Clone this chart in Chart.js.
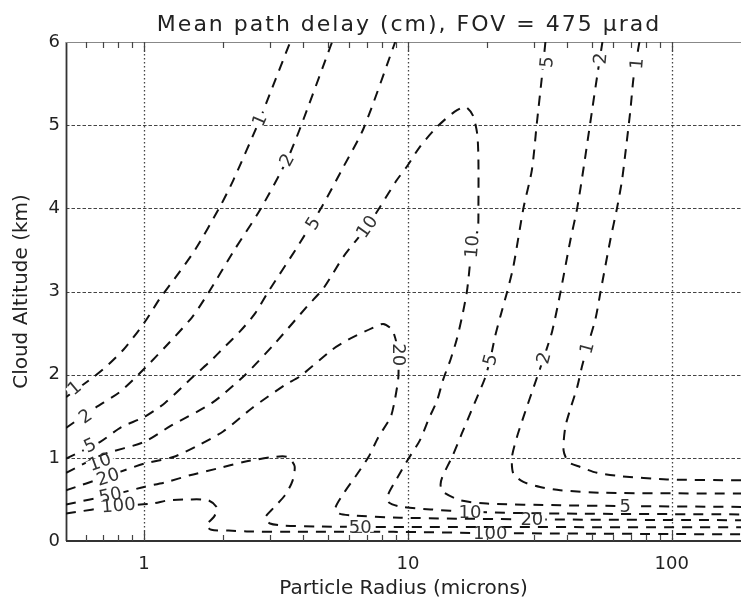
<!DOCTYPE html>
<html><head><meta charset="utf-8">
<script src="https://cdn.jsdelivr.net/npm/chart.js@4.4.1/dist/chart.umd.min.js"></script>
<style>html,body{margin:0;padding:0;background:#fff;overflow:hidden}#wrap{width:741px;height:601px}</style>
</head><body><div id="wrap"><canvas id="c" width="741" height="601"></canvas></div>
<script>
// ---------- text ----------
const chartTitle = 'Mean path delay (cm), FOV = 475 \u03bcrad';
const xAxisTitle = 'Particle Radius (microns)';
const yAxisTitle = 'Cloud Altitude (km)';
// ---------- axes ----------
const xTickValues = [1, 10, 100];
const xMinorTicks = [0.6,0.7,0.8,0.9,2,3,4,5,6,7,8,9,20,30,40,50,60,70,80,90];
const yTickValues = [0,1,2,3,4,5,6];
const xRange = [0.506, 183];
const yRange = [0, 6];
// ---------- contour lines [radius, altitude] ----------
const contour1Upper = [[0.506,1.73],[0.642,1.97],[0.732,2.12],[0.835,2.30],[0.938,2.50],[1.02,2.66],[1.15,2.92],[1.31,3.16],[1.56,3.50],[1.94,4.02],[2.18,4.34],[2.74,5.06],[3.0,5.38],[3.58,6.0]];
const contour2Upper = [[0.506,1.36],[0.652,1.60],[0.80,1.78],[0.924,1.96],[1.03,2.11],[1.2,2.33],[1.52,2.69],[1.75,2.98],[2.2,3.5],[2.75,3.98],[3.48,4.58],[3.9,4.96],[5.16,6.0]];
const contour5Upper = [[0.506,0.99],[0.68,1.19],[0.82,1.37],[1.0,1.49],[1.2,1.66],[1.54,1.98],[1.78,2.16],[2.03,2.34],[2.31,2.52],[2.64,2.74],[2.96,3.0],[3.8,3.53],[4.72,4.02],[5.7,4.5],[6.79,4.96],[8.95,6.0]];
const contour10 = [[0.506,0.82],[0.70,1.04],[1.0,1.19],[1.27,1.39],[1.81,1.66],[2.42,2.0],[3.14,2.38],[4.2,2.84],[4.79,3.04],[5.7,3.42],[7.0,3.78],[7.85,4.02],[9.08,4.34],[9.9,4.5],[11.1,4.74],[12.9,4.98],[15.0,5.16],[16.5,5.22],[17.6,5.12],[18.3,4.9],[18.5,4.6],[18.5,4.0],[18.4,3.74],[17.5,3.54],[17.0,3.18],[16.7,2.98],[16.0,2.68],[15.3,2.42],[14.5,2.18],[13.6,1.94],[12.9,1.69],[12.0,1.47],[11.1,1.21],[10.05,0.99],[9.08,0.75],[8.4,0.55],[8.5,0.46],[9.49,0.41],[12.2,0.38],[17.2,0.35],[37.8,0.33],[183,0.32]];
const contour20 = [[0.506,0.61],[0.73,0.78],[1.0,0.93],[1.29,1.01],[1.58,1.14],[2.0,1.32],[2.57,1.6],[3.43,1.88],[3.9,1.98],[5.16,2.30],[5.94,2.42],[7.32,2.56],[8.06,2.61],[8.71,2.54],[9.1,2.35],[9.2,2.2],[9.2,1.97],[8.95,1.72],[8.6,1.49],[7.73,1.25],[7.09,1.01],[6.31,0.77],[5.70,0.57],[5.30,0.39],[5.5,0.33],[6.04,0.31],[9.35,0.28],[29.5,0.26],[183,0.25]];
const contour50 = [[0.506,0.44],[0.77,0.56],[1.0,0.65],[1.22,0.71],[1.49,0.79],[1.89,0.87],[2.38,0.95],[3.09,1.01],[3.5,1.01],[3.72,0.9],[3.65,0.72],[3.42,0.55],[3.1,0.4],[2.88,0.28],[3.0,0.21],[3.4,0.185],[4.5,0.175],[6.77,0.17],[183,0.165]];
const contour100 = [[0.506,0.33],[0.79,0.42],[1.07,0.45],[1.24,0.49],[1.47,0.50],[1.75,0.49],[1.89,0.40],[1.84,0.29],[1.72,0.19],[1.8,0.135],[2.09,0.125],[2.45,0.115],[3.79,0.11],[8.82,0.11],[20.5,0.095],[183,0.08]];
const contour5Right = [[33.2,6.0],[32.2,5.58],[30.8,5.02],[29.5,4.46],[27.4,4.0],[25.1,3.30],[23.7,2.98],[22.4,2.70],[21.4,2.46],[20.5,2.18],[19.6,1.96],[18.3,1.73],[17.0,1.49],[16.0,1.29],[14.7,1.01],[13.5,0.77],[13.3,0.67],[13.6,0.59],[15.8,0.49],[19.9,0.45],[37.8,0.43],[66.7,0.42],[183,0.41]];
const contour2Right = [[54.6,6.0],[52.1,5.58],[49.9,5.18],[46.4,4.50],[43.8,4.0],[41.3,3.62],[37.8,2.98],[35.2,2.52],[32.7,2.20],[30.8,1.96],[27.4,1.49],[25.9,1.25],[24.8,1.01],[25.1,0.81],[27.4,0.71],[31.7,0.65],[37.8,0.61],[55.0,0.58],[183,0.57]];
const contour1Right = [[75.4,6.0],[71.7,5.58],[69.7,5.18],[66.7,4.66],[64.8,4.34],[62.0,4.0],[58.5,3.62],[53.6,2.98],[51.3,2.66],[47.7,2.32],[45.7,2.10],[43.8,1.85],[41.3,1.59],[39.5,1.37],[38.9,1.09],[40.6,0.95],[45.0,0.89],[52.1,0.82],[63.8,0.78],[96.0,0.74],[183,0.73]];
const contourSeries = [
  ['1', contour1Upper], ['2', contour2Upper], ['5', contour5Upper], ['10', contour10],
  ['20', contour20], ['50', contour50], ['100', contour100],
  ['5', contour5Right], ['2', contour2Right], ['1', contour1Right]
];
// ---------- contour labels (text and anchor in data units) ----------
const labelTexts = ['1','2','5','10','20','50','100', '1','2','5','10', '10','20', '5','2','1', '5','2','1', '50','10','100','20','5'];
const labelX = [0.545,0.60,0.624,0.68,0.73,0.745,0.80, 2.74,3.48,4.37,7.0, 17.5,9.2, 20.5,32.7,47.7, 33.6,53.6,73.8, 6.6,17.2,20.5,29.5,66.7];
const labelY = [1.84,1.50,1.15,0.95,0.77,0.55,0.43, 5.06,4.58,3.82,3.78, 3.54,2.24, 2.18,2.20,2.32, 5.76,5.80,5.74, 0.17,0.35,0.095,0.26,0.42];
// label rotation (style)
const labelAngles = [-40,-35,-25,-20,-18,-12,-5, -66,-62,-58,-55, -85,90, -75,-75,-75, -85,-85,-85, 0,0,0,0,0];

const FONT = '"DejaVu Sans", "Liberation Sans", sans-serif';
Chart.defaults.font.family = FONT;
Chart.defaults.color = '#222';

const framePlugin = {
  id: 'frame',
  beforeDatasetsDraw(chart) {
    const {ctx, chartArea: {left, right, top, bottom}, scales: {x, y}} = chart;
    ctx.save();
    ctx.strokeStyle = '#444'; ctx.lineWidth = 1.3; ctx.setLineDash([1.5, 2.5]);
    xTickValues.forEach(v => {
      const px = Math.round(x.getPixelForValue(v)) + 0.5;
      ctx.beginPath(); ctx.moveTo(px, top); ctx.lineTo(px, bottom); ctx.stroke();
    });
    ctx.strokeStyle = '#444'; ctx.lineWidth = 1.1; ctx.setLineDash([3.5, 2]);
    yTickValues.slice(1, -1).forEach(v => {
      const py = Math.round(y.getPixelForValue(v)) + 0.5;
      ctx.beginPath(); ctx.moveTo(left, py); ctx.lineTo(right, py); ctx.stroke();
    });
    ctx.setLineDash([]);
    ctx.strokeStyle = '#333'; ctx.lineWidth = 1.8;
    ctx.beginPath(); ctx.moveTo(left + 0.5, top); ctx.lineTo(left + 0.5, bottom); ctx.stroke();
    ctx.beginPath(); ctx.moveTo(left, bottom); ctx.lineTo(right, bottom); ctx.stroke();
    ctx.strokeStyle = '#888'; ctx.lineWidth = 1;
    ctx.beginPath(); ctx.moveTo(left, top + 0.5); ctx.lineTo(right, top + 0.5); ctx.stroke();
    ctx.strokeStyle = '#444'; ctx.lineWidth = 1.2;
    const tickSet = xMinorTicks.map(v => [v, 6]).concat(xTickValues.map(v => [v, 10]));
    tickSet.forEach(([v, len]) => {
      const px = Math.round(x.getPixelForValue(v)) + 0.5;
      ctx.beginPath(); ctx.moveTo(px, bottom); ctx.lineTo(px, bottom - len); ctx.stroke();
      ctx.beginPath(); ctx.moveTo(px, top); ctx.lineTo(px, top + len); ctx.stroke();
    });
    ctx.restore();
  }
};

const labelPlugin = {
  id: 'contourLabels',
  afterDatasetsDraw(chart) {
    const {ctx, scales: {x, y}} = chart;
    ctx.save();
    ctx.font = '18px ' + FONT;
    ctx.textAlign = 'center';
    ctx.textBaseline = 'middle';
    labelTexts.forEach((t, i) => {
      const px = x.getPixelForValue(labelX[i]);
      const py = y.getPixelForValue(labelY[i]);
      const w = ctx.measureText(t).width;
      ctx.save();
      ctx.translate(px, py);
      ctx.rotate(labelAngles[i] * Math.PI / 180);
      ctx.fillStyle = '#fff';
      ctx.fillRect(-w / 2 - 2, -5, w + 4, 10);
      ctx.fillStyle = '#333';
      ctx.fillText(t, 0, 1);
      ctx.restore();
    });
    ctx.restore();
  }
};

const titlePlugin = {
  id: 'plotTitle',
  afterDraw(chart) {
    const {ctx} = chart;
    ctx.save();
    ctx.font = '22px ' + FONT;
    try { ctx.letterSpacing = '2px'; } catch (e) {}
    ctx.fillStyle = '#222';
    ctx.textAlign = 'center';
    ctx.textBaseline = 'alphabetic';
    ctx.fillText(chartTitle, 409, 31);
    ctx.restore();
  }
};

new Chart(document.getElementById('c'), {
  type: 'scatter',
  data: {
    datasets: contourSeries.map(([level, pts]) => ({
      label: level,
      data: pts.map(([r, a]) => ({x: r, y: a})),
      showLine: true,
      borderColor: '#111',
      borderWidth: 2,
      borderDash: [10, 8],
      pointRadius: 0,
      pointHoverRadius: 0,
      tension: 0.25,
      fill: false
    }))
  },
  options: {
    responsive: false,
    animation: false,
    devicePixelRatio: 1,
    layout: {padding: {top: 42, right: 0, left: 0, bottom: 0}},
    plugins: {legend: {display: false}, tooltip: {enabled: false}, title: {display: false}},
    scales: {
      x: {
        type: 'logarithmic',
        min: xRange[0], max: xRange[1],
        afterBuildTicks: s => { s.ticks = xTickValues.map(v => ({value: v})); },
        afterFit: s => { s.height = 60; },
        ticks: {autoSkip: false, maxRotation: 0, padding: 13, color: '#222',
                font: {size: 18}, callback: v => String(v)},
        grid: {display: false, drawTicks: false},
        border: {display: false},
        title: {display: true, text: xAxisTitle, color: '#222', font: {size: 20}, padding: {top: 0, bottom: 0}}
      },
      y: {
        type: 'linear',
        min: yRange[0], max: yRange[1],
        afterBuildTicks: s => { s.ticks = yTickValues.map(v => ({value: v})); },
        afterFit: s => { s.width = 66; },
        ticks: {padding: 6, color: '#222', font: {size: 18}},
        grid: {display: false, drawTicks: false},
        border: {display: false},
        title: {display: true, text: yAxisTitle, color: '#222', font: {size: 20}, padding: {top: 10, bottom: 0}}
      }
    }
  },
  plugins: [framePlugin, labelPlugin, titlePlugin]
});
</script>
</body></html>
